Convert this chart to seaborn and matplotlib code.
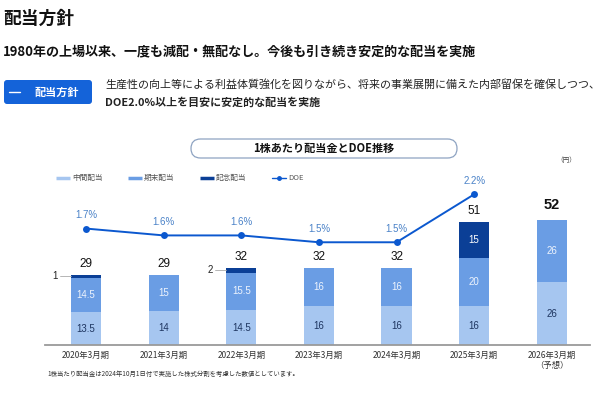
import matplotlib
matplotlib.use("Agg")
import matplotlib.pyplot as plt
import seaborn as sns
import pandas as pd
from matplotlib.patches import FancyBboxPatch
from matplotlib.lines import Line2D

# ---- data ----
periods = ["2020年3月期", "2021年3月期", "2022年3月期", "2023年3月期",
           "2024年3月期", "2025年3月期", "2026年3月期\n（予想）"]
interim = [13.5, 14, 14.5, 16, 16, 16, 26]
final = [14.5, 15, 15.5, 16, 16, 20, 26]
commemorative = [1, 0, 2, 0, 0, 15, 0]
totals = [29, 29, 32, 32, 32, 51, 52]
doe = [1.7, 1.6, 1.6, 1.5, 1.5, 2.2]
doe_labels = ["1.7%", "1.6%", "1.6%", "1.5%", "1.5%", "2.2%"]

C_LIGHT = "#a6c6f0"
C_MID = "#6a9de4"
C_DARK = "#0b3f96"
C_LINE = "#0b58cf"

sns.set_theme(style="white")
plt.rcParams["font.family"] = ["Noto Sans CJK JP", "DejaVu Sans"]
NUM = ["Liberation Sans", "Noto Sans CJK JP"]

fig = plt.figure(figsize=(6, 3.95), dpi=100)

# background overlay axes in pixel coordinates
bg = fig.add_axes([0, 0, 1, 1], zorder=-1)
bg.set_xlim(0, 600)
bg.set_ylim(395, 0)
bg.set_axis_off()

bg.text(3, 19, "配当方針", fontsize=12.8, fontweight="bold", va="center", ha="left", color="#111")
bg.text(3, 52, "1980年の上場以来、一度も減配・無配なし。今後も引き続き安定的な配当を実施",
        fontsize=9.4, fontweight="bold", va="center", ha="left", color="#111")
bg.add_patch(FancyBboxPatch((4, 80), 88, 24, boxstyle="round,pad=0,rounding_size=3",
                            fc="#1463d9", ec="none"))
bg.add_line(Line2D([9, 20], [92, 92], color="white", lw=1))
bg.text(57, 92, "配当方針", fontsize=8, fontweight="bold", color="white", va="center", ha="center")
bg.text(105, 84, "生産性の向上等による利益体質強化を図りながら、将来の事業展開に備えた内部留保を確保しつつ、",
        fontsize=7.9, va="center", ha="left", color="#222")
bg.text(105, 102, "DOE2.0%以上を目安に安定的な配当を実施",
        fontsize=7.9, fontweight="bold", va="center", ha="left", color="#222")

# chart title box
bg.add_patch(FancyBboxPatch((191, 139), 266, 19, boxstyle="round,pad=0,rounding_size=9.5",
                            fc="white", ec="#8ea3c2", lw=0.9))
bg.text(324, 148.5, "1株あたり配当金とDOE推移", fontsize=8, fontweight="bold",
        va="center", ha="center", color="#111")
bg.text(566, 160, "（円）", fontsize=4.8, va="center", ha="center", color="#444")

# legend (manual)
leg_items = [(56, "中間配当", C_LIGHT, False), (128, "期末配当", C_MID, False),
             (200, "記念配当", C_DARK, False), (272, "DOE", C_LINE, True)]
for x0, lab, col, is_line in leg_items:
    if is_line:
        bg.add_line(Line2D([x0, x0 + 14], [177.5, 177.5], color=col, lw=1))
        bg.plot([x0 + 7], [177.5], marker="o", ms=2.5, color=col)
    else:
        bg.add_line(Line2D([x0, x0 + 14], [177.5, 177.5], color=col, lw=2.5, solid_capstyle="butt"))
    bg.text(x0 + 16, 177.5, lab, fontsize=5.5, va="center", ha="left", color="#555")

bg.text(47, 374, "1株当たり配当金は2024年10月1日付で実施した株式分割を考慮した数値としています。",
        fontsize=4.6, va="center", ha="left", color="#333")

# ---- main chart ----
ax = fig.add_axes([0.075, 0.1266, 0.908, 0.405])
df = pd.DataFrame({
    "period": periods,
    "cum_all": [a + b + c for a, b, c in zip(interim, final, commemorative)],
    "cum_mid": [a + b for a, b in zip(interim, final)],
    "interim": interim,
})
W = 0.39
sns.barplot(data=df, x="period", y="cum_all", order=periods, color=C_DARK, width=W,
            saturation=1, ax=ax, linewidth=0)
sns.barplot(data=df, x="period", y="cum_mid", order=periods, color=C_MID, width=W,
            saturation=1, ax=ax, linewidth=0)
sns.barplot(data=df, x="period", y="interim", order=periods, color=C_LIGHT, width=W,
            saturation=1, ax=ax, linewidth=0)

ax.set_ylim(0, 66.4)
ax.set_xlim(-0.53, 6.49)
ax.set_xlabel("")
ax.set_ylabel("")
ax.set_yticks([])
for s in ["top", "right", "left"]:
    ax.spines[s].set_visible(False)
ax.spines["bottom"].set_color("#9a9a9a")
ax.spines["bottom"].set_linewidth(1.3)
ax.tick_params(axis="x", length=0, pad=4, labelsize=6, colors="#333")

# segment labels
for i in range(len(periods)):
    ax.text(i, interim[i] / 2, f"{interim[i]:g}", ha="center", va="center",
            fontsize=7, color="#1e3560", family=NUM)
    ax.text(i, interim[i] + final[i] / 2, f"{final[i]:g}", ha="center", va="center",
            fontsize=7, color="#eef4fd", family=NUM)
    c = commemorative[i]
    top = interim[i] + final[i] + c
    if c >= 5:
        ax.text(i, interim[i] + final[i] + c / 2, f"{c:g}", ha="center", va="center",
                fontsize=7, color="white", family=NUM)
    elif c > 0:
        ybar = interim[i] + final[i] + c / 2
        ax.plot([i - 0.34, i - W / 2], [ybar, ybar], color="#aaaaaa", lw=0.6)
        ax.text(i - 0.37, ybar, f"{c:g}", ha="right", va="center", fontsize=7,
                color="#222", family=NUM)
    if i == len(periods) - 1:
        ax.text(i, top + 3.3, f"{totals[i]}", ha="center", va="bottom", fontsize=10.5,
                fontweight="bold", color="#111", family=NUM)
    else:
        ax.text(i, top + 2.0, f"{totals[i]}", ha="center", va="bottom", fontsize=8.5,
                color="#111", family=NUM)

# DOE line
ax2 = ax.twinx()
sns.lineplot(x=list(range(len(doe))), y=doe, ax=ax2, color=C_LINE, lw=1.4,
             marker="o", markersize=5, markeredgewidth=0)
ax2.set_ylim(0, 2.336)
ax2.set_xlim(-0.53, 6.49)
ax2.set_yticks([])
for s in ["top", "right", "left", "bottom"]:
    ax2.spines[s].set_visible(False)
for i, (v, lab) in enumerate(zip(doe, doe_labels)):
    ax2.text(i, v + 0.12, lab, ha="center", va="bottom", fontsize=7, color="#4a82c8", family=NUM)

fig.savefig("out.png", dpi=100)
